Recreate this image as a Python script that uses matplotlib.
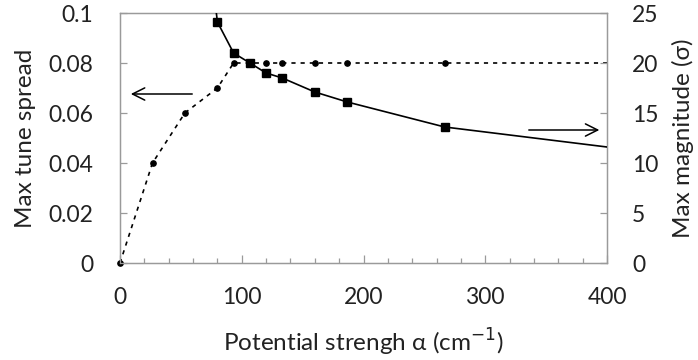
import matplotlib
matplotlib.use("Agg")
import matplotlib.pyplot as plt
from matplotlib.ticker import MultipleLocator

# Data
alpha_spread = [0, 26.7, 53.3, 80, 93.3, 106.7, 120, 133.3, 160, 186.7, 266.7, 400]
tune_spread = [0, 0.040, 0.060, 0.070, 0.080, 0.080, 0.080, 0.080, 0.080, 0.080, 0.080, 0.080]

alpha_mag = [66.7, 80, 93.3, 106.7, 120, 133.3, 160, 186.7, 266.7, 400]
max_mag = [38, 24.1, 21.0, 20.0, 19.0, 18.5, 17.1, 16.1, 13.6, 11.6]

x_ticks = [0, 100, 200, 300, 400]
left_ticks = [0, 0.02, 0.04, 0.06, 0.08, 0.1]
left_ticklabels = ["0", "0.02", "0.04", "0.06", "0.08", "0.1"]
right_ticks = [0, 5, 10, 15, 20, 25]

plt.rcParams['font.family'] = ['Lato', 'DejaVu Sans']
txt = '#222222'
spine_c = '#9a9a9a'
fs_tick = 16.5
fs_lab = 17.5

fig = plt.figure(figsize=(6.98, 3.60), dpi=100)
ax = fig.add_axes([120/698, 1-263/360, (607-120)/698, (263-13)/360])
ax2 = ax.twinx()

ax.plot(alpha_spread, tune_spread, linestyle=(0, (2.5, 3)), color='black', lw=1.2,
        marker='o', ms=3.8, markevery=list(range(len(alpha_spread)-1)), clip_on=False, zorder=3)
ax2.plot(alpha_mag, max_mag, linestyle='-', color='black', lw=1.2,
         marker='s', ms=6.2, markevery=list(range(1, len(alpha_mag)-1)), zorder=3)

ax.set_xlim(0, 400)
ax.set_ylim(0, 0.1)
ax2.set_ylim(0, 25)

ax.set_xticks(x_ticks)
ax.xaxis.set_minor_locator(MultipleLocator(20))
ax.set_yticks(left_ticks)
ax.set_yticklabels(left_ticklabels)
ax2.set_yticks(right_ticks)

for a in (ax, ax2):
    for s in a.spines.values():
        s.set_color(spine_c)
        s.set_linewidth(0.9)

ax.tick_params(axis='x', which='major', direction='in', length=6, width=0.9, color=spine_c,
               labelsize=fs_tick, labelcolor=txt, pad=17)
ax.tick_params(axis='x', which='minor', direction='in', length=3.5, width=0.9, color=spine_c)
ax.tick_params(axis='y', direction='in', length=5, width=0.9, color=spine_c,
               labelsize=fs_tick, labelcolor=txt, pad=19)
ax2.tick_params(axis='y', direction='in', length=5, width=0.9, color=spine_c,
                labelsize=fs_tick, labelcolor=txt, pad=18)

ax.set_xlabel(r"Potential strengh α (cm$^{-1}$)", fontsize=fs_lab, color=txt)
ax.set_ylabel("Max tune spread", fontsize=fs_lab, color=txt)
ax2.set_ylabel("Max magnitude (σ)", fontsize=fs_lab, color=txt)
ax.xaxis.set_label_coords(0.5, -0.255)
ax.yaxis.set_label_coords(-0.172, 0.5)
ax2.yaxis.set_label_coords(1.133, 0.5)

# Direction arrows
ax.annotate("", xy=(6.6, 0.0676), xytext=(61.6, 0.0676),
            arrowprops=dict(arrowstyle='->', color='black', lw=1.1, mutation_scale=22))
ax2.annotate("", xy=(396, 13.3), xytext=(333.5, 13.3),
             arrowprops=dict(arrowstyle='->', color='black', lw=1.1, mutation_scale=22))

fig.savefig("out.png", dpi=100)
